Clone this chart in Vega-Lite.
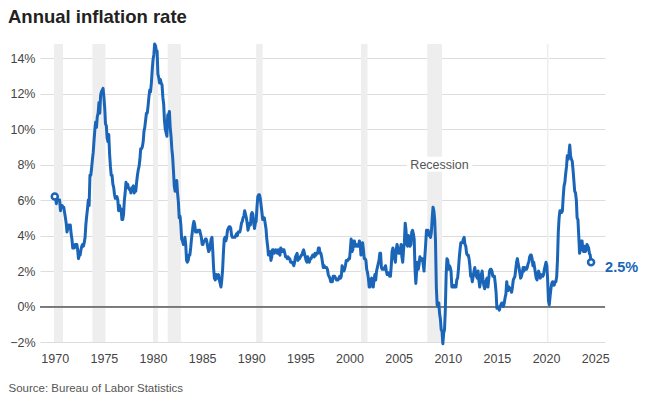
{
  "$schema": "https://vega.github.io/schema/vega-lite/v6.json",
  "width": 565,
  "height": 298,
  "autosize": "none",
  "padding": {"left": 40, "top": 44, "right": 41, "bottom": 55},
  "background": "white",
  "config": {
    "view": {"stroke": null},
    "font": "Liberation Sans"
  },
  "title": {
    "text": "Annual inflation rate",
    "anchor": "start",
    "frame": "group",
    "dx": -32,
    "offset": 1,
    "baseline": "alphabetic",
    "fontSize": 18.5,
    "fontWeight": "bold",
    "color": "#222222",
    "font": "Liberation Sans"
  },
  "datasets": {
    "rec": [
      {"start": "1969-12", "end": "1970-11"},
      {"start": "1973-11", "end": "1975-03"},
      {"start": "1980-01", "end": "1980-07"},
      {"start": "1981-07", "end": "1982-11"},
      {"start": "1990-07", "end": "1991-03"},
      {"start": "2001-03", "end": "2001-11"},
      {"start": "2007-12", "end": "2009-06"},
      {"start": "2020-02", "end": "2020-04"}
    ],
    "note": [
      {"start": "2005-11", "end": "2012-07", "mid": "2009-03", "lo": 7.6, "hi": 8.45, "y": 8, "label": "Recession"}
    ],
    "cpi": [
      {"d":"1970-01","v":6.2},{"d":"1970-02","v":6.1},{"d":"1970-03","v":5.8},{"d":"1970-04","v":6.1},{"d":"1970-05","v":6.0},{"d":"1970-06","v":6.0},{"d":"1970-07","v":6.0},{"d":"1970-08","v":5.4},{"d":"1970-09","v":5.7},{"d":"1970-10","v":5.7},{"d":"1970-11","v":5.6},{"d":"1970-12","v":5.6},
      {"d":"1971-01","v":5.3},{"d":"1971-02","v":5.0},{"d":"1971-03","v":4.7},{"d":"1971-04","v":4.2},{"d":"1971-05","v":4.4},{"d":"1971-06","v":4.6},{"d":"1971-07","v":4.4},{"d":"1971-08","v":4.6},{"d":"1971-09","v":4.1},{"d":"1971-10","v":3.8},{"d":"1971-11","v":3.3},{"d":"1971-12","v":3.3},
      {"d":"1972-01","v":3.3},{"d":"1972-02","v":3.5},{"d":"1972-03","v":3.5},{"d":"1972-04","v":3.5},{"d":"1972-05","v":3.2},{"d":"1972-06","v":2.7},{"d":"1972-07","v":2.9},{"d":"1972-08","v":2.9},{"d":"1972-09","v":3.2},{"d":"1972-10","v":3.4},{"d":"1972-11","v":3.5},{"d":"1972-12","v":3.4},
      {"d":"1973-01","v":3.6},{"d":"1973-02","v":3.9},{"d":"1973-03","v":4.6},{"d":"1973-04","v":5.1},{"d":"1973-05","v":5.5},{"d":"1973-06","v":6.0},{"d":"1973-07","v":5.7},{"d":"1973-08","v":7.4},{"d":"1973-09","v":7.4},{"d":"1973-10","v":7.8},{"d":"1973-11","v":8.3},{"d":"1973-12","v":8.7},
      {"d":"1974-01","v":9.4},{"d":"1974-02","v":10.0},{"d":"1974-03","v":10.4},{"d":"1974-04","v":10.1},{"d":"1974-05","v":10.7},{"d":"1974-06","v":10.9},{"d":"1974-07","v":11.5},{"d":"1974-08","v":10.9},{"d":"1974-09","v":11.9},{"d":"1974-10","v":12.1},{"d":"1974-11","v":12.2},{"d":"1974-12","v":12.3},
      {"d":"1975-01","v":11.8},{"d":"1975-02","v":11.2},{"d":"1975-03","v":10.3},{"d":"1975-04","v":10.2},{"d":"1975-05","v":9.5},{"d":"1975-06","v":9.3},{"d":"1975-07","v":9.7},{"d":"1975-08","v":8.6},{"d":"1975-09","v":7.9},{"d":"1975-10","v":7.4},{"d":"1975-11","v":7.4},{"d":"1975-12","v":6.9},
      {"d":"1976-01","v":6.7},{"d":"1976-02","v":6.3},{"d":"1976-03","v":6.1},{"d":"1976-04","v":6.1},{"d":"1976-05","v":6.2},{"d":"1976-06","v":6.0},{"d":"1976-07","v":5.4},{"d":"1976-08","v":5.7},{"d":"1976-09","v":5.5},{"d":"1976-10","v":5.5},{"d":"1976-11","v":4.9},{"d":"1976-12","v":4.9},
      {"d":"1977-01","v":5.2},{"d":"1977-02","v":6.0},{"d":"1977-03","v":6.4},{"d":"1977-04","v":7.0},{"d":"1977-05","v":6.7},{"d":"1977-06","v":6.9},{"d":"1977-07","v":6.7},{"d":"1977-08","v":6.6},{"d":"1977-09","v":6.6},{"d":"1977-10","v":6.4},{"d":"1977-11","v":6.7},{"d":"1977-12","v":6.7},
      {"d":"1978-01","v":6.8},{"d":"1978-02","v":6.4},{"d":"1978-03","v":6.6},{"d":"1978-04","v":6.5},{"d":"1978-05","v":7.0},{"d":"1978-06","v":7.4},{"d":"1978-07","v":7.7},{"d":"1978-08","v":7.9},{"d":"1978-09","v":8.3},{"d":"1978-10","v":8.9},{"d":"1978-11","v":8.9},{"d":"1978-12","v":9.0},
      {"d":"1979-01","v":9.3},{"d":"1979-02","v":9.9},{"d":"1979-03","v":10.1},{"d":"1979-04","v":10.5},{"d":"1979-05","v":10.9},{"d":"1979-06","v":10.9},{"d":"1979-07","v":11.3},{"d":"1979-08","v":11.8},{"d":"1979-09","v":12.2},{"d":"1979-10","v":12.1},{"d":"1979-11","v":12.6},{"d":"1979-12","v":13.3},
      {"d":"1980-01","v":13.9},{"d":"1980-02","v":14.2},{"d":"1980-03","v":14.8},{"d":"1980-04","v":14.7},{"d":"1980-05","v":14.4},{"d":"1980-06","v":14.4},{"d":"1980-07","v":13.1},{"d":"1980-08","v":12.9},{"d":"1980-09","v":12.6},{"d":"1980-10","v":12.8},{"d":"1980-11","v":12.6},{"d":"1980-12","v":12.5},
      {"d":"1981-01","v":11.8},{"d":"1981-02","v":11.4},{"d":"1981-03","v":10.5},{"d":"1981-04","v":10.0},{"d":"1981-05","v":9.8},{"d":"1981-06","v":9.6},{"d":"1981-07","v":10.8},{"d":"1981-08","v":10.8},{"d":"1981-09","v":11.0},{"d":"1981-10","v":10.1},{"d":"1981-11","v":9.6},{"d":"1981-12","v":8.9},
      {"d":"1982-01","v":8.4},{"d":"1982-02","v":7.6},{"d":"1982-03","v":6.8},{"d":"1982-04","v":6.5},{"d":"1982-05","v":6.7},{"d":"1982-06","v":7.1},{"d":"1982-07","v":6.4},{"d":"1982-08","v":5.9},{"d":"1982-09","v":5.0},{"d":"1982-10","v":5.1},{"d":"1982-11","v":4.6},{"d":"1982-12","v":3.8},
      {"d":"1983-01","v":3.7},{"d":"1983-02","v":3.5},{"d":"1983-03","v":3.6},{"d":"1983-04","v":3.9},{"d":"1983-05","v":3.5},{"d":"1983-06","v":2.6},{"d":"1983-07","v":2.5},{"d":"1983-08","v":2.6},{"d":"1983-09","v":2.9},{"d":"1983-10","v":2.9},{"d":"1983-11","v":3.3},{"d":"1983-12","v":3.8},
      {"d":"1984-01","v":4.2},{"d":"1984-02","v":4.6},{"d":"1984-03","v":4.8},{"d":"1984-04","v":4.6},{"d":"1984-05","v":4.2},{"d":"1984-06","v":4.2},{"d":"1984-07","v":4.2},{"d":"1984-08","v":4.3},{"d":"1984-09","v":4.3},{"d":"1984-10","v":4.3},{"d":"1984-11","v":4.1},{"d":"1984-12","v":3.9},
      {"d":"1985-01","v":3.5},{"d":"1985-02","v":3.5},{"d":"1985-03","v":3.7},{"d":"1985-04","v":3.7},{"d":"1985-05","v":3.8},{"d":"1985-06","v":3.8},{"d":"1985-07","v":3.6},{"d":"1985-08","v":3.3},{"d":"1985-09","v":3.1},{"d":"1985-10","v":3.2},{"d":"1985-11","v":3.5},{"d":"1985-12","v":3.8},
      {"d":"1986-01","v":3.9},{"d":"1986-02","v":3.1},{"d":"1986-03","v":2.2},{"d":"1986-04","v":1.6},{"d":"1986-05","v":1.5},{"d":"1986-06","v":1.8},{"d":"1986-07","v":1.6},{"d":"1986-08","v":1.6},{"d":"1986-09","v":1.8},{"d":"1986-10","v":1.5},{"d":"1986-11","v":1.3},{"d":"1986-12","v":1.1},
      {"d":"1987-01","v":1.5},{"d":"1987-02","v":2.1},{"d":"1987-03","v":3.0},{"d":"1987-04","v":3.8},{"d":"1987-05","v":3.9},{"d":"1987-06","v":3.7},{"d":"1987-07","v":3.9},{"d":"1987-08","v":4.3},{"d":"1987-09","v":4.4},{"d":"1987-10","v":4.5},{"d":"1987-11","v":4.5},{"d":"1987-12","v":4.4},
      {"d":"1988-01","v":4.0},{"d":"1988-02","v":3.9},{"d":"1988-03","v":3.9},{"d":"1988-04","v":3.9},{"d":"1988-05","v":3.9},{"d":"1988-06","v":4.0},{"d":"1988-07","v":4.1},{"d":"1988-08","v":4.0},{"d":"1988-09","v":4.2},{"d":"1988-10","v":4.2},{"d":"1988-11","v":4.2},{"d":"1988-12","v":4.4},
      {"d":"1989-01","v":4.7},{"d":"1989-02","v":4.8},{"d":"1989-03","v":5.0},{"d":"1989-04","v":5.1},{"d":"1989-05","v":5.4},{"d":"1989-06","v":5.2},{"d":"1989-07","v":5.0},{"d":"1989-08","v":4.7},{"d":"1989-09","v":4.3},{"d":"1989-10","v":4.5},{"d":"1989-11","v":4.7},{"d":"1989-12","v":4.6},
      {"d":"1990-01","v":5.2},{"d":"1990-02","v":5.3},{"d":"1990-03","v":5.2},{"d":"1990-04","v":4.7},{"d":"1990-05","v":4.4},{"d":"1990-06","v":4.7},{"d":"1990-07","v":4.8},{"d":"1990-08","v":5.6},{"d":"1990-09","v":6.2},{"d":"1990-10","v":6.3},{"d":"1990-11","v":6.3},{"d":"1990-12","v":6.1},
      {"d":"1991-01","v":5.7},{"d":"1991-02","v":5.3},{"d":"1991-03","v":4.9},{"d":"1991-04","v":4.9},{"d":"1991-05","v":5.0},{"d":"1991-06","v":4.7},{"d":"1991-07","v":4.4},{"d":"1991-08","v":3.8},{"d":"1991-09","v":3.4},{"d":"1991-10","v":2.9},{"d":"1991-11","v":3.0},{"d":"1991-12","v":3.1},
      {"d":"1992-01","v":2.6},{"d":"1992-02","v":2.8},{"d":"1992-03","v":3.2},{"d":"1992-04","v":3.2},{"d":"1992-05","v":3.0},{"d":"1992-06","v":3.1},{"d":"1992-07","v":3.2},{"d":"1992-08","v":3.1},{"d":"1992-09","v":3.0},{"d":"1992-10","v":3.2},{"d":"1992-11","v":3.0},{"d":"1992-12","v":2.9},
      {"d":"1993-01","v":3.3},{"d":"1993-02","v":3.2},{"d":"1993-03","v":3.1},{"d":"1993-04","v":3.2},{"d":"1993-05","v":3.2},{"d":"1993-06","v":3.0},{"d":"1993-07","v":2.8},{"d":"1993-08","v":2.8},{"d":"1993-09","v":2.7},{"d":"1993-10","v":2.8},{"d":"1993-11","v":2.7},{"d":"1993-12","v":2.7},
      {"d":"1994-01","v":2.5},{"d":"1994-02","v":2.5},{"d":"1994-03","v":2.5},{"d":"1994-04","v":2.4},{"d":"1994-05","v":2.3},{"d":"1994-06","v":2.5},{"d":"1994-07","v":2.8},{"d":"1994-08","v":2.9},{"d":"1994-09","v":3.0},{"d":"1994-10","v":2.6},{"d":"1994-11","v":2.7},{"d":"1994-12","v":2.7},
      {"d":"1995-01","v":2.8},{"d":"1995-02","v":2.9},{"d":"1995-03","v":2.9},{"d":"1995-04","v":3.1},{"d":"1995-05","v":3.2},{"d":"1995-06","v":3.0},{"d":"1995-07","v":2.8},{"d":"1995-08","v":2.6},{"d":"1995-09","v":2.5},{"d":"1995-10","v":2.8},{"d":"1995-11","v":2.6},{"d":"1995-12","v":2.5},
      {"d":"1996-01","v":2.7},{"d":"1996-02","v":2.7},{"d":"1996-03","v":2.8},{"d":"1996-04","v":2.9},{"d":"1996-05","v":2.9},{"d":"1996-06","v":2.8},{"d":"1996-07","v":3.0},{"d":"1996-08","v":2.9},{"d":"1996-09","v":3.0},{"d":"1996-10","v":3.0},{"d":"1996-11","v":3.3},{"d":"1996-12","v":3.3},
      {"d":"1997-01","v":3.0},{"d":"1997-02","v":3.0},{"d":"1997-03","v":2.8},{"d":"1997-04","v":2.5},{"d":"1997-05","v":2.2},{"d":"1997-06","v":2.3},{"d":"1997-07","v":2.2},{"d":"1997-08","v":2.2},{"d":"1997-09","v":2.2},{"d":"1997-10","v":2.1},{"d":"1997-11","v":1.8},{"d":"1997-12","v":1.7},
      {"d":"1998-01","v":1.6},{"d":"1998-02","v":1.4},{"d":"1998-03","v":1.4},{"d":"1998-04","v":1.4},{"d":"1998-05","v":1.7},{"d":"1998-06","v":1.7},{"d":"1998-07","v":1.7},{"d":"1998-08","v":1.6},{"d":"1998-09","v":1.5},{"d":"1998-10","v":1.5},{"d":"1998-11","v":1.5},{"d":"1998-12","v":1.6},
      {"d":"1999-01","v":1.7},{"d":"1999-02","v":1.6},{"d":"1999-03","v":1.7},{"d":"1999-04","v":2.3},{"d":"1999-05","v":2.1},{"d":"1999-06","v":2.0},{"d":"1999-07","v":2.1},{"d":"1999-08","v":2.3},{"d":"1999-09","v":2.6},{"d":"1999-10","v":2.6},{"d":"1999-11","v":2.6},{"d":"1999-12","v":2.7},
      {"d":"2000-01","v":2.7},{"d":"2000-02","v":3.2},{"d":"2000-03","v":3.8},{"d":"2000-04","v":3.1},{"d":"2000-05","v":3.2},{"d":"2000-06","v":3.7},{"d":"2000-07","v":3.7},{"d":"2000-08","v":3.4},{"d":"2000-09","v":3.5},{"d":"2000-10","v":3.4},{"d":"2000-11","v":3.4},{"d":"2000-12","v":3.4},
      {"d":"2001-01","v":3.7},{"d":"2001-02","v":3.5},{"d":"2001-03","v":2.9},{"d":"2001-04","v":3.3},{"d":"2001-05","v":3.6},{"d":"2001-06","v":3.2},{"d":"2001-07","v":2.7},{"d":"2001-08","v":2.7},{"d":"2001-09","v":2.6},{"d":"2001-10","v":2.1},{"d":"2001-11","v":1.9},{"d":"2001-12","v":1.6},
      {"d":"2002-01","v":1.1},{"d":"2002-02","v":1.1},{"d":"2002-03","v":1.5},{"d":"2002-04","v":1.6},{"d":"2002-05","v":1.2},{"d":"2002-06","v":1.1},{"d":"2002-07","v":1.5},{"d":"2002-08","v":1.8},{"d":"2002-09","v":1.5},{"d":"2002-10","v":2.0},{"d":"2002-11","v":2.2},{"d":"2002-12","v":2.4},
      {"d":"2003-01","v":2.6},{"d":"2003-02","v":3.0},{"d":"2003-03","v":3.0},{"d":"2003-04","v":2.2},{"d":"2003-05","v":2.1},{"d":"2003-06","v":2.1},{"d":"2003-07","v":2.1},{"d":"2003-08","v":2.2},{"d":"2003-09","v":2.3},{"d":"2003-10","v":2.0},{"d":"2003-11","v":1.8},{"d":"2003-12","v":1.9},
      {"d":"2004-01","v":1.9},{"d":"2004-02","v":1.7},{"d":"2004-03","v":1.7},{"d":"2004-04","v":2.3},{"d":"2004-05","v":3.1},{"d":"2004-06","v":3.3},{"d":"2004-07","v":3.0},{"d":"2004-08","v":2.7},{"d":"2004-09","v":2.5},{"d":"2004-10","v":3.2},{"d":"2004-11","v":3.5},{"d":"2004-12","v":3.3},
      {"d":"2005-01","v":3.0},{"d":"2005-02","v":3.0},{"d":"2005-03","v":3.1},{"d":"2005-04","v":3.5},{"d":"2005-05","v":2.8},{"d":"2005-06","v":2.5},{"d":"2005-07","v":3.2},{"d":"2005-08","v":3.6},{"d":"2005-09","v":4.7},{"d":"2005-10","v":4.3},{"d":"2005-11","v":3.5},{"d":"2005-12","v":3.4},
      {"d":"2006-01","v":4.0},{"d":"2006-02","v":3.6},{"d":"2006-03","v":3.4},{"d":"2006-04","v":3.5},{"d":"2006-05","v":4.2},{"d":"2006-06","v":4.3},{"d":"2006-07","v":4.1},{"d":"2006-08","v":3.8},{"d":"2006-09","v":2.1},{"d":"2006-10","v":1.3},{"d":"2006-11","v":2.0},{"d":"2006-12","v":2.5},
      {"d":"2007-01","v":2.1},{"d":"2007-02","v":2.4},{"d":"2007-03","v":2.8},{"d":"2007-04","v":2.6},{"d":"2007-05","v":2.7},{"d":"2007-06","v":2.7},{"d":"2007-07","v":2.4},{"d":"2007-08","v":2.0},{"d":"2007-09","v":2.8},{"d":"2007-10","v":3.5},{"d":"2007-11","v":4.3},{"d":"2007-12","v":4.1},
      {"d":"2008-01","v":4.3},{"d":"2008-02","v":4.0},{"d":"2008-03","v":4.0},{"d":"2008-04","v":3.9},{"d":"2008-05","v":4.2},{"d":"2008-06","v":5.0},{"d":"2008-07","v":5.6},{"d":"2008-08","v":5.4},{"d":"2008-09","v":4.9},{"d":"2008-10","v":3.7},{"d":"2008-11","v":1.1},{"d":"2008-12","v":0.1},
      {"d":"2009-01","v":0.0},{"d":"2009-02","v":0.2},{"d":"2009-03","v":-0.4},{"d":"2009-04","v":-0.7},{"d":"2009-05","v":-1.3},{"d":"2009-06","v":-1.4},{"d":"2009-07","v":-2.1},{"d":"2009-08","v":-1.5},{"d":"2009-09","v":-1.3},{"d":"2009-10","v":-0.2},{"d":"2009-11","v":1.8},{"d":"2009-12","v":2.7},
      {"d":"2010-01","v":2.6},{"d":"2010-02","v":2.1},{"d":"2010-03","v":2.3},{"d":"2010-04","v":2.2},{"d":"2010-05","v":2.0},{"d":"2010-06","v":1.1},{"d":"2010-07","v":1.2},{"d":"2010-08","v":1.1},{"d":"2010-09","v":1.1},{"d":"2010-10","v":1.2},{"d":"2010-11","v":1.1},{"d":"2010-12","v":1.5},
      {"d":"2011-01","v":1.6},{"d":"2011-02","v":2.1},{"d":"2011-03","v":2.7},{"d":"2011-04","v":3.2},{"d":"2011-05","v":3.6},{"d":"2011-06","v":3.6},{"d":"2011-07","v":3.6},{"d":"2011-08","v":3.8},{"d":"2011-09","v":3.9},{"d":"2011-10","v":3.5},{"d":"2011-11","v":3.4},{"d":"2011-12","v":3.0},
      {"d":"2012-01","v":2.9},{"d":"2012-02","v":2.9},{"d":"2012-03","v":2.7},{"d":"2012-04","v":2.3},{"d":"2012-05","v":1.7},{"d":"2012-06","v":1.7},{"d":"2012-07","v":1.4},{"d":"2012-08","v":1.7},{"d":"2012-09","v":2.0},{"d":"2012-10","v":2.2},{"d":"2012-11","v":1.8},{"d":"2012-12","v":1.7},
      {"d":"2013-01","v":1.6},{"d":"2013-02","v":2.0},{"d":"2013-03","v":1.5},{"d":"2013-04","v":1.1},{"d":"2013-05","v":1.4},{"d":"2013-06","v":1.8},{"d":"2013-07","v":2.0},{"d":"2013-08","v":1.5},{"d":"2013-09","v":1.2},{"d":"2013-10","v":1.0},{"d":"2013-11","v":1.2},{"d":"2013-12","v":1.5},
      {"d":"2014-01","v":1.6},{"d":"2014-02","v":1.1},{"d":"2014-03","v":1.5},{"d":"2014-04","v":2.0},{"d":"2014-05","v":2.1},{"d":"2014-06","v":2.1},{"d":"2014-07","v":2.0},{"d":"2014-08","v":1.7},{"d":"2014-09","v":1.7},{"d":"2014-10","v":1.7},{"d":"2014-11","v":1.3},{"d":"2014-12","v":0.8},
      {"d":"2015-01","v":-0.1},{"d":"2015-02","v":0.0},{"d":"2015-03","v":-0.1},{"d":"2015-04","v":-0.2},{"d":"2015-05","v":0.0},{"d":"2015-06","v":0.1},{"d":"2015-07","v":0.2},{"d":"2015-08","v":0.2},{"d":"2015-09","v":0.0},{"d":"2015-10","v":0.2},{"d":"2015-11","v":0.5},{"d":"2015-12","v":0.7},
      {"d":"2016-01","v":1.4},{"d":"2016-02","v":1.0},{"d":"2016-03","v":0.9},{"d":"2016-04","v":1.1},{"d":"2016-05","v":1.0},{"d":"2016-06","v":1.0},{"d":"2016-07","v":0.8},{"d":"2016-08","v":1.1},{"d":"2016-09","v":1.5},{"d":"2016-10","v":1.6},{"d":"2016-11","v":1.7},{"d":"2016-12","v":2.1},
      {"d":"2017-01","v":2.5},{"d":"2017-02","v":2.7},{"d":"2017-03","v":2.4},{"d":"2017-04","v":2.2},{"d":"2017-05","v":1.9},{"d":"2017-06","v":1.6},{"d":"2017-07","v":1.7},{"d":"2017-08","v":1.9},{"d":"2017-09","v":2.2},{"d":"2017-10","v":2.0},{"d":"2017-11","v":2.2},{"d":"2017-12","v":2.1},
      {"d":"2018-01","v":2.1},{"d":"2018-02","v":2.2},{"d":"2018-03","v":2.4},{"d":"2018-04","v":2.5},{"d":"2018-05","v":2.8},{"d":"2018-06","v":2.9},{"d":"2018-07","v":2.9},{"d":"2018-08","v":2.7},{"d":"2018-09","v":2.3},{"d":"2018-10","v":2.5},{"d":"2018-11","v":2.2},{"d":"2018-12","v":1.9},
      {"d":"2019-01","v":1.6},{"d":"2019-02","v":1.5},{"d":"2019-03","v":1.9},{"d":"2019-04","v":2.0},{"d":"2019-05","v":1.8},{"d":"2019-06","v":1.6},{"d":"2019-07","v":1.8},{"d":"2019-08","v":1.7},{"d":"2019-09","v":1.7},{"d":"2019-10","v":1.8},{"d":"2019-11","v":2.1},{"d":"2019-12","v":2.3},
      {"d":"2020-01","v":2.5},{"d":"2020-02","v":2.3},{"d":"2020-03","v":1.5},{"d":"2020-04","v":0.3},{"d":"2020-05","v":0.1},{"d":"2020-06","v":0.6},{"d":"2020-07","v":1.0},{"d":"2020-08","v":1.3},{"d":"2020-09","v":1.4},{"d":"2020-10","v":1.2},{"d":"2020-11","v":1.2},{"d":"2020-12","v":1.4},
      {"d":"2021-01","v":1.4},{"d":"2021-02","v":1.7},{"d":"2021-03","v":2.6},{"d":"2021-04","v":4.2},{"d":"2021-05","v":5.0},{"d":"2021-06","v":5.4},{"d":"2021-07","v":5.4},{"d":"2021-08","v":5.3},{"d":"2021-09","v":5.4},{"d":"2021-10","v":6.2},{"d":"2021-11","v":6.8},{"d":"2021-12","v":7.0},
      {"d":"2022-01","v":7.5},{"d":"2022-02","v":7.9},{"d":"2022-03","v":8.5},{"d":"2022-04","v":8.3},{"d":"2022-05","v":8.6},{"d":"2022-06","v":9.1},{"d":"2022-07","v":8.5},{"d":"2022-08","v":8.3},{"d":"2022-09","v":8.2},{"d":"2022-10","v":7.7},{"d":"2022-11","v":7.1},{"d":"2022-12","v":6.5},
      {"d":"2023-01","v":6.4},{"d":"2023-02","v":6.0},{"d":"2023-03","v":5.0},{"d":"2023-04","v":4.9},{"d":"2023-05","v":4.0},{"d":"2023-06","v":3.0},{"d":"2023-07","v":3.2},{"d":"2023-08","v":3.7},{"d":"2023-09","v":3.7},{"d":"2023-10","v":3.2},{"d":"2023-11","v":3.1},{"d":"2023-12","v":3.4},
      {"d":"2024-01","v":3.1},{"d":"2024-02","v":3.2},{"d":"2024-03","v":3.5},{"d":"2024-04","v":3.4},{"d":"2024-05","v":3.3},{"d":"2024-06","v":3.0},{"d":"2024-07","v":2.9},{"d":"2024-08","v":2.5}
    ]
  },
  "layer": [
    {
      "data": {"name": "rec"},
      "mark": {"type": "rect", "color": "#eeeeee"},
      "encoding": {
        "x": {"field": "start", "type": "temporal", "title": "Source: Bureau of Labor Statistics"},
        "x2": {"field": "end"},
        "y": {
          "datum": -2,
          "type": "quantitative",
          "title": null,
          "scale": {"domain": [-2, 14.8], "nice": false, "zero": false},
          "axis": {
            "values": [-2, 0, 2, 4, 6, 8, 10, 12, 14],
            "tickCount": 20,
            "labelExpr": "(datum.value < 0 ? '−' + abs(datum.value) : datum.value) + '%'",
            "labelOverlap": false,
            "grid": true,
            "gridColor": "#dddddd",
            "gridWidth": 1,
            "domain": false,
            "ticks": false,
            "labelPadding": 5,
            "labelFontSize": 12.5,
            "labelColor": "#444444",
            "labelFont": "Liberation Sans"
          }
        },
        "y2": {"datum": 14.8}
      }
    },
    {
      "data": {"name": "cpi"},
      "mark": {"type": "rule", "color": "#777777", "strokeWidth": 1},
      "encoding": {"y": {"datum": 0}}
    },
    {
      "data": {"name": "note"},
      "mark": {"type": "rect", "color": "white"},
      "encoding": {
        "x": {"field": "start", "type": "temporal", "title": "Source: Bureau of Labor Statistics"},
        "x2": {"field": "end"},
        "y": {"field": "lo", "type": "quantitative", "title": null},
        "y2": {"field": "hi"}
      }
    },
    {
      "data": {"name": "note"},
      "mark": {"type": "text", "fontSize": 12.5, "color": "#555555", "baseline": "middle", "align": "center"},
      "encoding": {
        "x": {"field": "mid", "type": "temporal", "title": "Source: Bureau of Labor Statistics"},
        "y": {"field": "y", "type": "quantitative", "title": null},
        "text": {"field": "label"}
      }
    },
    {
      "data": {"name": "cpi"},
      "mark": {"type": "line", "color": "#1a65b8", "strokeWidth": 3, "strokeJoin": "round", "strokeCap": "round"},
      "encoding": {
        "x": {
          "field": "d",
          "type": "temporal",
          "title": "Source: Bureau of Labor Statistics",
          "scale": {"type": "utc", "domain": [{"year": 1968, "month": 7, "date": 1, "utc": true}, {"year": 2026, "month": 1, "date": 1, "utc": true}]},
          "axis": {
            "format": "%Y",
            "formatType": "utc",
            "tickCount": {"interval": "year", "step": 5},
            "grid": false,
            "domain": false,
            "ticks": false,
            "labelPadding": 10,
            "labelFontSize": 12.5,
            "labelColor": "#444444",
            "labelFont": "Liberation Sans",
            "titleFont": "Liberation Sans",
            "titleFontSize": 11.5,
            "titleFontWeight": "normal",
            "titleColor": "#555555",
            "titleAnchor": "start",
            "titleAlign": "left",
            "titleBaseline": "alphabetic",
            "titleX": -32,
            "titleY": 49
          }
        },
        "y": {"field": "v", "type": "quantitative", "title": null}
      }
    },
    {
      "data": {"name": "cpi"},
      "transform": [{"filter": "(utcyear(datum.d) == 1970 && utcmonth(datum.d) == 0) || (utcyear(datum.d) == 2024 && utcmonth(datum.d) == 7)"}],
      "mark": {"type": "point", "shape": "circle", "filled": true, "fill": "white", "stroke": "#1a65b8", "strokeWidth": 2.5, "size": 36, "opacity": 1},
      "encoding": {
        "x": {"field": "d", "type": "temporal", "title": "Source: Bureau of Labor Statistics"},
        "y": {"field": "v", "type": "quantitative", "title": null}
      }
    },
    {
      "data": {"name": "cpi"},
      "transform": [
        {"filter": "utcyear(datum.d) == 2024 && utcmonth(datum.d) == 7"},
        {"calculate": "format(datum.v, '.1f') + '%'", "as": "lab"}
      ],
      "mark": {"type": "text", "align": "left", "baseline": "middle", "dx": 14, "dy": 6, "fontSize": 14.5, "fontWeight": "bold", "color": "#1a65b8"},
      "encoding": {
        "x": {"field": "d", "type": "temporal", "title": "Source: Bureau of Labor Statistics"},
        "y": {"field": "v", "type": "quantitative", "title": null},
        "text": {"field": "lab"}
      }
    }
  ]
}
